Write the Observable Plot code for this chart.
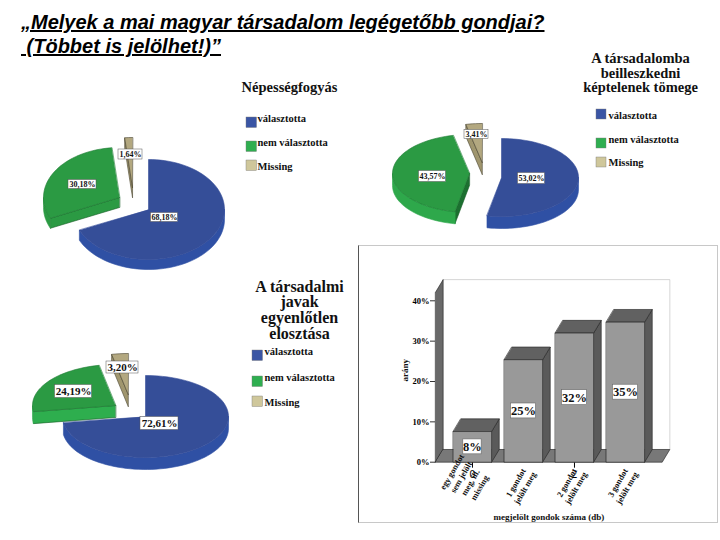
<!DOCTYPE html>
<html lang="hu">
<head>
<meta charset="utf-8">
<style>
html,body{margin:0;padding:0;background:#fff;width:720px;height:540px;overflow:hidden}
.layer{position:absolute;left:0;top:0}
.layer svg{display:block;background:transparent}
#title{position:absolute;left:21px;top:10px;font:italic bold 20px/24px "Liberation Sans",Arial,sans-serif;color:#000;text-decoration:underline;white-space:pre}
#panel{position:absolute;left:358px;top:245px;width:360px;height:278px;box-sizing:border-box;border:1px solid #c8c8c8;border-left:1px solid #555;background:#fff}
#bars{position:absolute;left:358px;top:245px}
</style>
<script src="https://cdn.jsdelivr.net/npm/d3@7"></script>
<script src="https://cdn.jsdelivr.net/npm/@observablehq/plot@0.6"></script>
</head>
<body>
<div id="pies" class="layer"></div>
<div id="panel"></div>
<div id="bars"></div>
<div id="title">„Melyek a mai magyar társadalom legégetőbb gondjai?
 (Többet is jelölhet!)”</div>
<script>
// ---- data ----
const legendLabels = ["választotta", "nem választotta", "Missing"];
const pie1Values = [68.18, 30.18, 1.64];
const pie2Values = [53.02, 43.57, 3.41];
const pie3Values = [72.61, 24.19, 3.20];
const pie1Title = "Népességfogyás";
const pie2Title = "A társadalomba\nbeilleszkedni\nképtelenek tömege";
const pie3Title = "A társadalmi\njavak\negyenlőtlen\nelosztása";

const barCategories = ["egy gondot\nsem jelölt\nmeg, ill.\nmissing", "1 gondot\njelölt meg", "2 gondot\njelölt meg", "3 gondot\njelölt meg"];
const barValues = [7.6, 25.4, 32.0, 34.7];
const barLabels = ["8%", "25%", "32%", "35%"];
const yTicks = [0, 10, 20, 30, 40];

// ---- styling ----
const serif = "'Liberation Serif','DejaVu Serif',serif";
const faceColors = ["#354e98", "#2b9a43", "#b3a880"];
const rimColors  = ["#2f50a4", "#2ea84b", "#a0966e"];
const legendColors = ["#3a55a4", "#2fae50", "#cfc79b"];

// Each pie: size, depth, where each exploded slice's apex sits, where its label sits.
const pies = [
  {values: pie1Values, rx: 76, ry: 50, depth: 10, wall: "#2b9a43", greenRim: "#2b9a43", fs: 8,
   apex: [[148, 209], [119, 197], [132, 187]],
   label: [[164, 217, 27, 9], [82, 184, 28, 9], [130, 154, 24, 10]]},
  {values: pie2Values, rx: 77, ry: 39, depth: 12, wall: "#1c7030", greenRim: "#2ea84b", fs: 8,
   apex: [[501, 177], [469, 173], [481.7, 162]],
   label: [[531, 178, 27, 11], [432, 176, 27, 11], [476, 134, 24, 9]]},
  {values: pie3Values, rx: 83, ry: 41, depth: 12, wall: "#2eae4e", greenRim: "#2eae4e", fs: 11,
   apex: [[145, 416], [115, 405], [127.7, 394]],
   label: [[159, 423, 38, 13], [73, 391, 37, 13], [122, 367, 32, 12]]}
];

const legends = [
  {title: pie1Title, tx: 289, ty: 87, tfs: 14.5, lh: 1, sx: 246, size: 10.5, textX: 257,
   sy: [117, 141, 160], ly: [118, 142, 166]},
  {title: pie2Title, tx: 640, ty: 72.5, tfs: 14.5, lh: 1, sx: 596, size: 10, textX: 608,
   sy: [109, 138, 157], ly: [115, 139, 162]},
  {title: pie3Title, tx: 299, ty: 309.5, tfs: 16, lh: 0.98, sx: 252, size: 10.5, textX: 264,
   sy: [350, 376, 396], ly: [351, 377, 402]}
];

const pct = v => d3.format(".2f")(v).replace(".", ",") + "%";

// ---- pie geometry from the values ----
const polys = [];
let pid = 0;
function addPoly(pts, fill, stroke) {
  const id = pid++;
  for (const [x, y] of pts) polys.push({id, x, y, fill, stroke});
}
pies.forEach(p => {
  let start = 0;
  const sl = p.values.map((v, i) => {
    const a0 = start, a1 = start + v / 100 * 360;
    start = a1;
    return {i, a0, a1, cx: p.apex[i][0], cy: p.apex[i][1]};
  });
  const pt = (s, a, d = 0) => {
    const r = a * Math.PI / 180;
    return [s.cx + p.rx * Math.sin(r), s.cy - p.ry * Math.cos(r) + d];
  };
  const arc = (s, a0, a1, d = 0) => {
    const out = [], n = Math.max(2, Math.ceil((a1 - a0) / 3));
    for (let k = 0; k <= n; k++) out.push(pt(s, a0 + (a1 - a0) * k / n, d));
    return out;
  };
  sl.forEach(s => {
    // radial cut wall on the leading edge (faces the viewer for all but the first slice)
    if (s.i > 0) {
      addPoly([[s.cx, s.cy], pt(s, s.a0), pt(s, s.a0, p.depth), [s.cx, s.cy + p.depth]],
              s.i === 1 ? p.wall : rimColors[2], s.i === 1 ? "#145a24" : "#4a4430");
    }
    // outer rim on the front half of the ellipse
    const r0 = Math.max(s.a0, 90), r1 = Math.min(s.a1, 270);
    if (r1 > r0) {
      const c = s.i === 1 ? p.greenRim : rimColors[s.i];
      addPoly([...arc(s, r0, r1), ...arc(s, r0, r1, p.depth).reverse()], c, c);
    }
    // top face
    addPoly([[s.cx, s.cy], ...arc(s, s.a0, s.a1)], faceColors[s.i],
            s.i === 0 ? faceColors[0] : s.i === 1 ? "#1d7a33" : "#4a4430");
  });
});

const pieLabels = pies.flatMap(p => p.values.map((v, i) => ({
  text: pct(v), x: p.label[i][0], y: p.label[i][1], w: p.label[i][2], h: p.label[i][3], fs: p.fs
})));
const legendSwatches = legends.flatMap(l => l.sy.map((y, i) => ({x: l.sx, y, s: l.size, fill: legendColors[i]})));
const legendTexts = legends.flatMap(l => l.ly.map((y, i) => ({x: l.textX, y, text: legendLabels[i]})));

const pagePlot = Plot.plot({
  width: 720, height: 540, margin: 0,
  x: {domain: [0, 720], range: [0, 720], axis: null},
  y: {domain: [0, 540], range: [0, 540], axis: null},
  color: {type: "identity"},
  style: {background: "transparent"},
  marks: [
    Plot.line(polys, {x: "x", y: "y", z: "id", fill: "fill", stroke: "stroke", strokeWidth: 0.6, curve: "linear-closed"}),
    Plot.rect(pieLabels, {x1: d => d.x - d.w / 2, x2: d => d.x + d.w / 2, y1: d => d.y - d.h / 2, y2: d => d.y + d.h / 2,
                          fill: "#fff", stroke: "#555", strokeWidth: 0.5}),
    ...[8, 11].map(fs => Plot.text(pieLabels.filter(d => d.fs === fs), {x: "x", y: "y", text: "text", fontSize: fs, fontWeight: "bold", fontFamily: serif, fill: "#111"})),
    Plot.rect(legendSwatches, {x1: "x", x2: d => d.x + d.s, y1: "y", y2: d => d.y + d.s, fill: "fill", stroke: "#777", strokeWidth: 0.4}),
    Plot.text(legendTexts, {x: "x", y: "y", text: "text", textAnchor: "start", fontSize: 10.5, fontWeight: "bold", fontFamily: serif, fill: "#111", style: {letterSpacing: "0.5px"}}),
    ...legends.map(l => Plot.text([l.title], {x: () => l.tx, y: () => l.ty, text: d => d, lineHeight: l.lh, fontSize: l.tfs, fontWeight: "bold", fontFamily: serif, fill: "#111"}))
  ]
});
document.getElementById("pies").append(pagePlot);

// ---- 3D bar panel ----
const DX = 0.15, DY = 3.15, HALF = 0.375;
const bars = barValues.map((v, i) => ({i, v, label: barLabels[i]}));
const XL = -0.725, XR = 3.72, YTOP = 42.1;
const poly3 = [];
let bid = 0;
const addB = (pts, fill) => { const id = bid++; pts.forEach(([x, y]) => poly3.push({id, x, y, fill})); };
addB([[XL + DX, DY], [XR + DX, DY], [XR + DX, YTOP + DY], [XL + DX, YTOP + DY]], "#ffffff");
addB([[XL, 0], [XL + DX, DY], [XL + DX, YTOP + DY], [XL, YTOP]], "#696969");
addB([[XL, 0], [XR, 0], [XR + DX, DY], [XL + DX, DY]], "#787878");
bars.forEach(b => {
  const l = b.i - HALF, r = b.i + HALF;
  addB([[r, 0], [r + DX, DY], [r + DX, b.v + DY], [r, b.v]], "#5a5a5a");
  addB([[l, b.v], [r, b.v], [r + DX, b.v + DY], [l + DX, b.v + DY]], "#616161");
  addB([[l, 0], [r, 0], [r, b.v], [l, b.v]], "#999999");
});

const barPlot = Plot.plot({
  width: 360, height: 278,
  marginLeft: 77, marginRight: 56.3, marginTop: 55.3, marginBottom: 61.3,
  x: {type: "linear", domain: [XL, XR]},
  y: {domain: [0, 40]},
  color: {type: "identity"},
  style: {background: "transparent", overflow: "visible"},
  marks: [
    Plot.line(poly3, {x: "x", y: "y", z: "id", fill: "fill", stroke: d => d.fill === "#ffffff" ? "#bbb" : "#222", strokeWidth: 0.6, curve: "linear-closed"}),
    Plot.rect(bars, {x1: d => d.i - (d.label.length > 2 ? 0.245 : 0.18), x2: d => d.i + (d.label.length > 2 ? 0.245 : 0.18),
                     y1: d => d.v / 2 - 1.85, y2: d => d.v / 2 + 1.85, fill: "#fff", stroke: "#666", strokeWidth: 0.6}),
    Plot.text(bars, {x: "i", y: d => d.v / 2, text: "label", fontSize: 12.5, fontWeight: "bold", fontFamily: serif, fill: "#111"}),
    Plot.axisY({ticks: yTicks, tickFormat: d => d + "%", tickSize: 5, tickPadding: 1, fontSize: 8.5, fontWeight: "bold", fontFamily: serif, stroke: "#333",
                label: null}),
    Plot.text(["arány"], {frameAnchor: "left", dx: -30, rotate: -90, fontSize: 9, fontWeight: "bold", fontFamily: serif, fill: "#111"}),
    Plot.text(barCategories, {x: (d, i) => i - (i === 0 ? 0.14 : 0.07), y: (d, i) => i === 0 ? -4.3 : -5.7, text: d => d, rotate: -60, lineHeight: 1.25, fontSize: 8.5, fontWeight: "bold", fontFamily: serif, fill: "#111"}),
    Plot.text(["megjelölt gondok száma (db)"], {frameAnchor: "bottom", dy: 58, fontSize: 9, fontWeight: "bold", fontFamily: serif, fill: "#111"})
  ]
});
document.getElementById("bars").append(barPlot);
</script>
</body>
</html>
